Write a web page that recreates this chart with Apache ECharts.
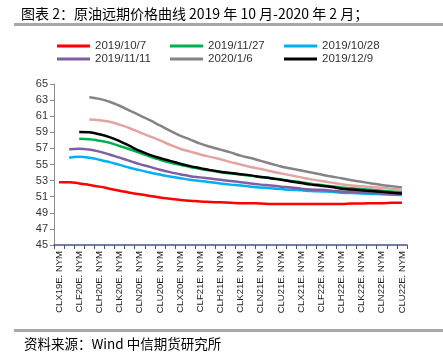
<!DOCTYPE html>
<html><head><meta charset="utf-8">
<script src="https://cdn.jsdelivr.net/npm/echarts@6/dist/echarts.min.js"></script>
<style>html,body{margin:0;padding:0;background:#fff}#c{width:443px;height:356px}</style>
</head><body><div id="c"></div>
<script>
const categories = ['CLX19E. NYM','CLZ19E. NYM','CLF20E. NYM','CLG20E. NYM','CLH20E. NYM','CLJ20E. NYM','CLK20E. NYM','CLM20E. NYM','CLN20E. NYM','CLQ20E. NYM','CLU20E. NYM','CLV20E. NYM','CLX20E. NYM','CLZ20E. NYM','CLF21E. NYM','CLG21E. NYM','CLH21E. NYM','CLJ21E. NYM','CLK21E. NYM','CLM21E. NYM','CLN21E. NYM','CLQ21E. NYM','CLU21E. NYM','CLV21E. NYM','CLX21E. NYM','CLZ21E. NYM','CLF22E. NYM','CLG22E. NYM','CLH22E. NYM','CLJ22E. NYM','CLK22E. NYM','CLM22E. NYM','CLN22E. NYM','CLQ22E. NYM','CLU22E. NYM'];
const s20191007 = [52.8,52.8,52.65,52.45,52.25,52.0,51.75,51.5,51.3,51.1,50.9,50.75,50.6,50.5,50.4,50.35,50.3,50.25,50.2,50.2,50.15,50.1,50.1,50.1,50.1,50.1,50.1,50.1,50.1,50.15,50.15,50.2,50.2,50.25,50.25];
const s20191028 = [null,55.85,55.95,55.85,55.6,55.3,54.95,54.6,54.3,54.0,53.75,53.5,53.3,53.1,52.95,52.8,52.65,52.5,52.4,52.25,52.15,52.05,51.95,51.85,51.8,51.7,51.65,51.6,51.5,51.45,51.4,51.35,51.3,51.25,51.2];
const s20191111 = [null,56.9,56.95,56.85,56.6,56.25,55.85,55.45,55.05,54.7,54.35,54.05,53.8,53.55,53.4,53.25,53.1,52.95,52.8,52.65,52.5,52.4,52.25,52.15,52.0,51.9,51.85,51.75,51.65,51.6,51.55,51.5,51.4,51.35,51.3];
const s20191127 = [null,null,58.2,58.15,57.95,57.7,57.3,56.9,56.45,56.0,55.6,55.25,54.95,54.7,54.45,54.25,54.05,53.9,53.75,53.6,53.45,53.3,53.15,52.95,52.8,52.6,52.45,52.3,52.15,52.05,51.95,51.85,51.75,51.65,51.6];
const s20191209 = [null,null,59.05,59.0,58.75,58.4,57.9,57.3,56.7,56.2,55.8,55.45,55.1,54.8,54.55,54.3,54.1,53.95,53.8,53.65,53.45,53.3,53.1,52.9,52.7,52.5,52.35,52.2,52.0,51.9,51.8,51.7,51.6,51.5,51.4];
const s20200106 = [null,null,null,63.35,63.15,62.8,62.3,61.7,61.1,60.5,59.85,59.2,58.6,58.1,57.6,57.2,56.85,56.5,56.1,55.8,55.45,55.1,54.75,54.5,54.25,54.0,53.75,53.5,53.3,53.05,52.85,52.65,52.45,52.3,52.15];
const sPink = [null,null,null,60.6,60.5,60.3,59.95,59.5,59.0,58.5,58.0,57.45,56.95,56.6,56.25,55.95,55.65,55.3,55.0,54.7,54.45,54.15,53.9,53.65,53.4,53.15,52.95,52.75,52.55,52.4,52.3,52.2,52.1,52.0,51.9];
const yTicks = [45,47,49,51,53,55,57,59,61,63,65];

const seriesDefs = [
  {name:'2019/10/7', data:s20191007, color:'#ff0000'},
  {name:'2019/11/27', data:s20191127, color:'#00b050'},
  {name:'2019/10/28', data:s20191028, color:'#00b0f0'},
  {name:'2019/11/11', data:s20191111, color:'#7f5fa1'},
  {name:'2020/1/6', data:s20200106, color:'#848484'},
  {name:'2019/12/9', data:s20191209, color:'#000000'},
  {name:'pink', data:sPink, color:'#e3a3a0'}
];
const legendPos = [[57,40],[170,40],[284,40],[57,53],[170,53],[284,53]];
const chart = echarts.init(document.getElementById('c'));
const font = 'Liberation Sans, Arial, sans-serif';
chart.setOption({
  animation:false,
  title:{text:'图表 2：原油远期价格曲线 2019 年 10 月-2020 年 2 月；',left:16,top:2,
    textStyle:{fontSize:14,fontWeight:'normal',color:'#000',fontFamily:'Noto Sans CJK SC'}},
  legend: seriesDefs.slice(0,6).map((s,i)=>({
    data:[s.name], left:legendPos[i][0], top:legendPos[i][1], padding:0,
    itemWidth:33, itemHeight:3, icon:'rect',
    textStyle:{fontSize:11.5,color:'#333',fontFamily:font}
  })),
  grid:{left:54,right:36,top:84,bottom:111},
  xAxis:{type:'category',data:categories,boundaryGap:true,
    axisLine:{lineStyle:{color:'#44538f',width:1.5}},
    axisTick:{show:true,interval:0,length:4,lineStyle:{color:'#44538f'}},
    axisLabel:{interval:1,rotate:90,fontSize:9.5,color:'#222',fontFamily:font,margin:6}},
  yAxis:{type:'value',min:yTicks[0],max:yTicks[yTicks.length-1],interval:2,
    axisLine:{show:true,lineStyle:{color:'#8a8a8a'}},
    axisTick:{show:true,length:4,lineStyle:{color:'#8a8a8a'}},
    splitLine:{show:false},
    axisLabel:{fontSize:11,color:'#333',fontFamily:font,margin:6}},
  series: seriesDefs.map(s=>({name:s.name,type:'line',data:s.data,smooth:true,
    showSymbol:false,symbol:'none',itemStyle:{color:s.color},
    lineStyle:{color:s.color,width:2.5}})),
  graphic:[
    {type:'rect',shape:{x:14,y:23,width:429,height:3},style:{fill:'#a8a8a8'}},
    {type:'rect',shape:{x:14,y:329,width:429,height:3},style:{fill:'#a8a8a8'}},
    {type:'text',left:24,top:337,style:{text:'资料来源：Wind 中信期货研究所',fontSize:13.5,fill:'#000',fontFamily:'Noto Sans CJK SC'}}
  ]
});
</script></body></html>
